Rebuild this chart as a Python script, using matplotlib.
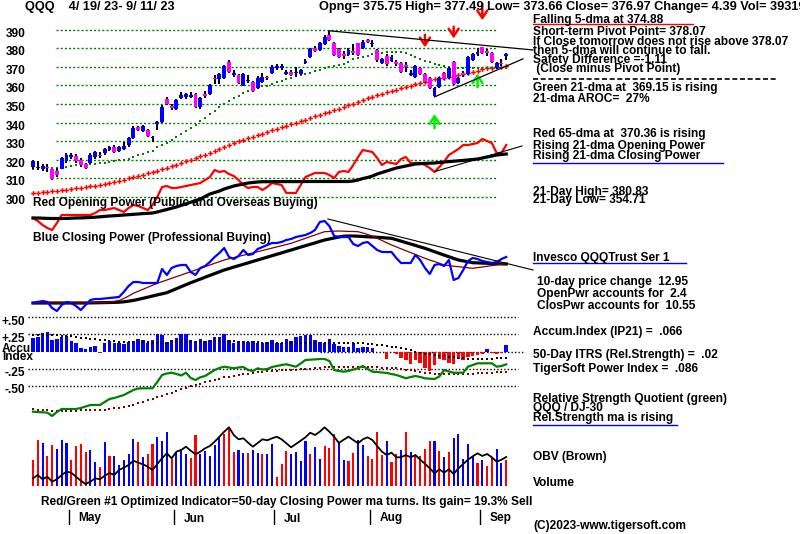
import matplotlib
matplotlib.use('Agg')
import matplotlib.pyplot as plt
from matplotlib.lines import Line2D
from matplotlib.transforms import ScaledTranslation
import numpy as np

W, H = 800, 534
plt.rcParams['font.family'] = ['Liberation Sans', 'DejaVu Sans']
FS = 8.6
FS_HEAD = 9.2

# ---------------- data ----------------
ticker = "QQQ"
date_range = "4/ 19/ 23- 9/ 11/ 23"
price_levels = [390, 380, 370, 360, 350, 340, 330, 320, 310, 300]
months = ["May", "Jun", "Jul", "Aug", "Sep"]
month_start_idx = [8, 30, 51, 71, 94]

opens = [315.9, 315.4, 315.3, 316.3, 314.8, 313.8, 315.2, 319.5, 321.6, 322.2,
         319.9, 317.7, 318.0, 321.3, 322.4, 323.6, 325.4, 327.0, 324.9, 325.9,
         327.7, 331.7, 337.7, 335.6, 336.1, 331.5, 339.2, 340.4, 352.9, 348.8,
         347.4, 353.3, 353.6, 353.8, 355.2, 348.4, 354.9, 355.2, 364.2, 363.3,
         363.8, 372.7, 365.8, 365.6, 360.2, 362.1, 361.7, 358.8, 361.7, 364.2,
         366.8, 369.2, 369.4, 366.1, 367.2, 366.5, 366.1, 372.2, 375.4, 379.9,
         379.0, 382.1, 387.2, 382.6, 379.4, 376.3, 376.3, 378.1, 382.6, 379.9,
         384.4, 382.0, 379.0, 371.9, 376.0, 373.3, 372.7, 372.2, 370.4, 365.8,
         364.7, 369.5, 366.1, 363.8, 354.3, 359.3, 366.5, 364.2, 372.7, 361.2,
         366.3, 366.1, 373.6, 376.7, 380.4, 377.8, 377.2, 369.2, 371.8, 375.75]
closes = [319.1, 316.2, 316.9, 315.4, 309.5, 311.7, 320.9, 322.7, 321.9, 319.1,
          317.0, 315.6, 322.7, 324.0, 321.8, 325.8, 326.6, 324.3, 327.0, 327.3,
          331.7, 337.3, 336.1, 337.9, 332.9, 332.0, 340.0, 348.4, 349.9, 347.7,
          352.0, 355.0, 355.2, 354.6, 348.4, 353.4, 354.3, 360.2, 363.3, 366.1,
          370.4, 367.4, 366.7, 361.5, 366.1, 362.6, 357.0, 364.2, 364.7, 363.8,
          370.0, 370.6, 370.4, 367.2, 365.6, 367.0, 368.3, 373.1, 379.4, 378.6,
          382.6, 386.0, 384.5, 376.3, 375.4, 375.8, 379.0, 377.6, 376.3, 383.5,
          383.5, 383.0, 373.6, 374.0, 371.3, 375.4, 371.5, 367.4, 369.8, 366.3,
          370.4, 366.0, 362.0, 358.5, 358.5, 363.8, 363.5, 369.5, 360.8, 363.8,
          365.8, 375.4, 376.7, 378.1, 377.2, 377.3, 372.7, 371.9, 371.3, 376.97]
highs = [319.8, 319.5, 317.8, 317.9, 315.2, 315.5, 321.3, 323.5, 323.6, 323.0,
         320.8, 318.5, 323.5, 324.8, 324.0, 326.5, 327.5, 327.8, 327.6, 329.5,
         332.3, 338.0, 338.3, 338.6, 336.6, 333.0, 340.8, 349.4, 353.6, 350.0,
         352.6, 356.2, 355.8, 356.3, 355.8, 353.8, 357.0, 360.8, 365.5, 366.6,
         371.0, 373.6, 368.4, 366.0, 366.6, 365.7, 362.2, 364.8, 366.5, 364.8,
         370.7, 371.5, 371.7, 368.5, 368.0, 369.8, 369.0, 374.0, 380.0, 381.3,
         383.4, 386.8, 389.3, 383.2, 380.0, 378.6, 380.2, 382.0, 383.0, 384.2,
         385.0, 384.2, 379.6, 374.7, 376.6, 376.2, 373.4, 372.8, 372.5, 368.3,
         371.0, 370.1, 366.8, 364.4, 359.2, 364.5, 367.2, 370.1, 373.3, 364.5,
         367.5, 376.0, 377.4, 380.0, 380.8, 379.6, 377.8, 372.5, 374.0, 377.49]
lows = [315.0, 314.3, 313.8, 313.5, 309.0, 310.5, 314.8, 318.5, 320.3, 318.3,
        316.2, 314.8, 317.5, 320.5, 320.8, 322.8, 324.5, 323.6, 324.2, 325.4,
        327.0, 331.0, 335.4, 335.0, 332.1, 329.8, 336.0, 340.0, 349.2, 346.5,
        346.8, 352.8, 352.8, 353.0, 347.8, 347.5, 353.3, 354.6, 360.8, 360.7,
        363.2, 366.6, 364.5, 360.9, 359.6, 361.5, 356.4, 358.2, 361.0, 363.0,
        366.2, 368.5, 368.4, 365.5, 364.8, 364.5, 365.5, 371.5, 374.8, 377.8,
        378.4, 381.5, 384.0, 375.7, 374.5, 374.4, 375.6, 376.5, 375.7, 379.3,
        382.5, 380.8, 372.8, 371.2, 370.6, 372.6, 370.4, 366.6, 367.0, 364.8,
        364.1, 365.3, 361.3, 357.9, 353.7, 358.7, 362.8, 363.5, 360.2, 360.5,
        364.6, 365.5, 373.0, 376.0, 376.6, 376.0, 372.0, 368.6, 370.4, 373.66]

ma21 = [315.2, 315.3, 315.3, 315.4, 315.4, 315.5, 315.6, 316.3, 316.8, 317.1,
        317.3, 317.5, 317.6, 317.7, 318.0, 318.4, 318.8, 319.3, 319.7, 320.0,
        320.4, 321.3, 322.3, 323.1, 324.0, 324.9, 326.6, 327.8, 329.0, 330.5,
        332.0, 333.8, 335.6, 337.0, 338.8, 340.9, 342.7, 344.5, 346.3, 348.1,
        349.9, 351.7, 353.1, 354.5, 355.8, 357.0, 358.1, 359.2, 359.5, 359.7,
        360.6, 361.7, 362.5, 363.3, 364.2, 365.0, 365.6, 366.0, 366.8, 367.7,
        368.3, 369.2, 369.7, 370.4, 371.0, 371.3, 372.4, 374.0, 374.5, 375.4,
        376.0, 376.7, 377.3, 377.6, 377.9, 378.0, 378.0, 377.8, 377.2, 376.2,
        375.2, 374.3, 373.3, 372.4, 371.5, 370.8, 370.2, 369.8, 369.4, 369.2,
        369.1, 369.1, 369.1, 369.1, 369.1, 369.1, 369.1, 369.1, 369.1, 369.15]
ma65 = [302.2, 302.4, 302.7, 302.9, 303.2, 303.4, 303.7, 304.0, 304.3, 304.7,
        305.0, 305.4, 305.7, 306.1, 306.5, 307.0, 307.6, 308.2, 308.8, 309.4,
        310.0, 310.7, 311.3, 312.0, 312.7, 313.4, 314.1, 314.8, 315.5, 316.4,
        317.3, 318.2, 319.1, 320.0, 320.9, 321.8, 322.8, 323.8, 324.9, 325.9,
        326.9, 328.0, 329.0, 329.9, 330.7, 331.6, 332.4, 333.3, 334.1, 335.0,
        335.8, 336.7, 337.5, 338.3, 339.2, 340.0, 340.8, 341.6, 342.4, 343.3,
        344.1, 344.9, 345.7, 346.5, 347.4, 348.3, 349.2, 350.1, 351.1, 352.0,
        353.0, 353.8, 354.6, 355.4, 356.2, 357.0, 357.7, 358.5, 359.2, 359.9,
        360.6, 361.3, 362.0, 362.7, 363.3, 363.8, 364.2, 364.6, 365.0, 365.5,
        366.0, 366.6, 367.3, 367.9, 368.6, 369.2, 369.5, 369.8, 370.1, 370.36]

open_power = [17, 14, 10, 7, 5, 12, 20, 20, 20, 20, 20, 20, 20, 22, 25, 25, 26, 27, 25, 23,
              27, 30, 29, 27, 25, 30, 38, 48, 49, 47, 47, 48, 49, 50, 51, 52, 55, 58, 65, 63,
              64, 61, 59, 55, 50, 47, 48, 48, 45, 48, 52, 51, 50, 42, 42, 42, 50, 58, 60, 62,
              62, 62, 60, 57, 63, 64, 63, 70, 78, 85, 84, 83, 77, 70, 73, 72, 71, 76, 78, 72,
              72, 72, 70, 67, 63, 68, 73, 80, 83, 86, 90, 90, 91, 92, 96, 94, 92, 82, 82, 90]
open_power_ma = [17, 17, 16.8, 16.6, 16.5, 16.5, 16.5, 16.6, 16.8, 17, 17.1, 17.3, 17.5, 17.8,
                 18.2, 18.6, 19, 19.3, 19.6, 20, 20.3, 20.7, 21, 21.4, 21.7, 22, 23, 24.3, 25.5,
                 26.8, 28, 29.6, 31.2, 32.8, 34.4, 36, 38.5, 41, 42.5, 44, 46, 47.5, 49, 50, 51,
                 52, 52.5, 53, 53.3, 53.3, 53.3, 53.4, 53.4, 53.4, 53.4, 53.4, 53.4, 53.5, 53.5,
                 53.5, 53.5, 53.5, 53.5, 53.5, 53.5, 53.5, 53.5, 54, 55, 56.5, 57.5, 59, 61, 62.5,
                 64, 65.5, 67, 68, 69, 70, 71, 71.3, 71.6, 71.8, 72, 72.5, 73, 73.4, 73.8, 74.2,
                 74.6, 75, 75.5, 76, 77, 78, 79, 80, 80.5, 81]
close_power = [7, 8, 9, 8, 2, -1, 5, 8, 7, 4, 0, 5, 10, 11, 11, 11.5, 12, 12.5, 13, 18,
               24, 28, 28, 27, 27, 27, 27, 41, 35, 42, 44, 45, 45, 38, 35, 42, 44, 48, 53, 57,
               62, 53, 51, 54, 60, 55, 56, 61, 63, 65, 67, 67, 68, 70, 71, 73, 74, 75, 77, 80,
               88, 89, 84, 74, 73, 73, 73, 66, 64, 67, 68, 64, 60, 58, 58, 58, 52, 47, 47, 47,
               55, 50, 42, 36, 45, 46, 44, 50, 30, 32, 40, 49, 52, 51, 49, 48, 47, 48, 51, 53]
close_power_ma = [7, 7, 7, 7, 7, 7, 7, 7, 7, 7, 7, 7, 7.1, 7.2, 7.3, 7.4, 7.5, 7.6, 7.8, 8.2,
                  8.8, 9.6, 10.6, 11.7, 12.8, 14, 15.1, 16.2, 17.3, 19.3, 21.3, 23.3, 25.3, 27.3,
                  29.1, 30.9, 32.8, 34.6, 36.4, 38.2, 40, 41.4, 42.9, 44.3, 45.7, 47.1, 48.6, 50,
                  51.4, 52.9, 54.3, 55.7, 57.1, 58.6, 60, 61.4, 62.9, 64.3, 65.7, 67.1, 68.6, 70,
                  71, 72, 73, 73.8, 74, 74, 73.8, 73.5, 73.2, 73, 72.7, 72.4, 72, 71.7, 70.3, 68.9,
                  67.4, 66, 64.6, 63.1, 61.7, 60, 58.3, 56.6, 54.9, 53.3, 51.6, 50, 49.1, 48.2,
                  47.3, 47.1, 46.9, 46.7, 46.5, 46.3, 46.1, 46]
close_power_ma_short = [7, 7, 7, 7, 7, 7, 7, 7, 7, 7, 7, 7, 7.2, 7.4, 7.6, 7.8, 8, 8.5, 9.5, 11.5,
                        14, 16.7, 18.7, 20.7, 22.7, 24.7, 26.7, 28.4, 30, 31.7, 33.4, 35, 36.7,
                        38.3, 40, 41.7, 43.3, 45, 46.7, 48.3, 50, 51.2, 52.4, 53.6, 54.8, 55.9,
                        57.1, 58.3, 59.5, 60.7, 61.9, 63.1, 64.3, 65.5, 66.7, 68.4, 70, 71.7, 73.4,
                        75, 76.7, 78.3, 78.6, 78.8, 79, 78.8, 78.6, 78.5, 78.3, 77, 75.5, 74, 71.7,
                        69.5, 67.2, 65, 63.1, 61.2, 59.3, 57.4, 55.5, 53.6, 51.7, 50, 48.4, 46.7,
                        45, 44.4, 43.8, 43.3, 42.8, 42.2, 41.7, 42.4, 43, 43.7, 44.4, 45, 45.8, 46.7]

accum_index = [0.19, 0.215, 0.265, 0.283, 0.167, 0.177, 0.215, 0.225, 0.157, 0.119,
               0.046, 0.032, 0.07, 0.08, -0.02, 0.119, 0.15, 0.13, 0.13, 0.11,
               0.14, 0.157, 0.177, 0.167, 0.119, 0.167, 0.255, 0.235, 0.14, 0.167,
               0.19, 0.254, 0.254, 0.167, 0.157, 0.18, 0.157, 0.167, 0.206, 0.206,
               0.254, 0.167, 0.13, 0.157, 0.15, 0.136, 0.157, 0.119, 0.13, 0.14,
               0.167, 0.13, 0.13, 0.177, 0.157, 0.206, 0.225, 0.24, 0.24, 0.167,
               0.143, 0.13, 0.177, 0.11, 0.08, 0.06, 0.07, 0.119, 0.046, 0.06,
               0.06, 0.046, -0.01, -0.01, -0.11, -0.01, -0.04, -0.1, -0.13, -0.18,
               -0.12, -0.17, -0.24, -0.28, -0.19, -0.11, -0.13, -0.16, -0.18, -0.11,
               -0.12, -0.08, -0.06, -0.05, -0.03, 0.03, -0.02, -0.03, -0.02, 0.09]
accum_ma = [0.24, 0.24, 0.24, 0.24, 0.235, 0.235, 0.23, 0.23, 0.22, 0.206,
            0.2, 0.19, 0.18, 0.175, 0.17, 0.16, 0.15, 0.15, 0.145, 0.14,
            0.14, 0.14, 0.135, 0.135, 0.135, 0.13, 0.13, 0.13, 0.13, 0.135,
            0.135, 0.14, 0.14, 0.14, 0.14, 0.14, 0.145, 0.145, 0.15, 0.15,
            0.15, 0.15, 0.15, 0.145, 0.14, 0.14, 0.135, 0.135, 0.13, 0.13,
            0.13, 0.13, 0.13, 0.13, 0.13, 0.13, 0.13, 0.13, 0.13, 0.13,
            0.13, 0.13, 0.13, 0.13, 0.13, 0.13, 0.13, 0.125, 0.12, 0.12,
            0.115, 0.11, 0.1, 0.09, 0.08, 0.07, 0.06, 0.045, 0.03, 0.015,
            0.0, -0.015, -0.03, -0.04, -0.05, -0.06, -0.07, -0.075, -0.085, -0.09,
            -0.1, -0.105, -0.11, -0.11, -0.11, -0.11, -0.105, -0.1, -0.1, -0.1]
rel_strength = [8.3, 8, 7.7, 7.3, 4, 8, 11, 11, 11, 11, 12, 13.5, 15, 15, 15, 18, 21, 22, 23.5, 25,
                27.5, 30, 31.5, 31.7, 31.7, 31.7, 38, 45, 46.5, 47.3, 46, 44.5, 47.3, 42, 40, 42.7,
                44, 47, 50, 52, 53.3, 52.5, 51.7, 52.5, 53, 50, 49, 51.7, 50.5, 51, 53, 54, 55,
                55.7, 54.5, 53.3, 56.5, 60, 60.3, 60.6, 61, 61, 59, 50, 49, 48.3, 49, 50.5, 51.7,
                54, 51, 48.3, 48, 47.5, 47, 46, 45, 43.5, 41.7, 43, 44, 43, 41.7, 41.3, 41, 43.5,
                50, 48.5, 47.3, 47.3, 47.3, 53.3, 55, 56.7, 56.7, 56.7, 56.7, 53.3, 54, 55.7]
rel_strength_ma = [10.7, 10.4, 10.1, 9.8, 9.5, 9.3, 9.3, 9.3, 9.4, 9.5, 9.6, 9.7, 9.8, 9.9, 10,
                   10.5, 11, 11.6, 12.2, 12.7, 14, 15.5, 17, 18.5, 20, 21.4, 22.7, 24.3, 25.9,
                   27.5, 29.2, 30.8, 32.4, 34, 35.2, 36.5, 37.7, 39, 40.2, 41.5, 42.7, 43.5, 44.3,
                   45, 45.8, 46.5, 47.2, 47.8, 48.4, 49, 49.3, 49.5, 49.8, 50, 50.3, 50.5, 50.7,
                   51.1, 51.5, 51.8, 52.2, 52.6, 53, 53.3, 53.3, 53.3, 53.3, 53.3, 53.3, 53.3,
                   53.3, 53.1, 52.8, 52.5, 52.2, 52, 51.7, 51, 50.3, 49.6, 48.9, 48.1, 47.4, 46.7,
                   46.5, 46.3, 46.1, 46, 46, 46, 46, 46.2, 46.5, 46.7, 47, 47.2, 47.5, 47.7, 48, 48.3]
volume = [25.7, 45.7, 43, 29.7, 40.7, 37.3, 45.7, 43, 26.3, 39.7, 41.7, 33.7, 35.7, 23.7, 19,
          43.7, 29.7, 29.7, 20.7, 25.7, 32.3, 47, 43.7, 29, 32.3, 41.7, 49, 45, 53.7, 27.3,
          34, 37.3, 32.3, 28.3, 50.7, 32.3, 34.7, 29.7, 40.7, 49, 51.7, 59, 33.7, 35.7, 33,
          33, 36.3, 33, 31.7, 31.7, 41.7, 9, 21.7, 34.7, 32.3, 33.7, 24.7, 44.7, 32.3, 38.7,
          26.7, 39.7, 38, 52.3, 42.7, 25.7, 24.7, 32.7, 46.3, 40.7, 29.7, 27, 53.7, 30.7, 44.7,
          23.7, 31.7, 35.7, 53.7, 33.7, 29.7, 29.7, 36.7, 44.7, 44.7, 34.7, 28.7, 33.7, 47.7,
          51.7, 26.7, 41.7, 28.7, 22.7, 25.7, 19.7, 28.7, 36.7, 22.7, 25.7]
volume_color = ("rrbrrbbbrrrrbbrbrbbbbbrbrrbbbrbbbrrbbbbbrrrbbrbbrb"
                "brrrbbbbrbbrrrbbrrbbrrrrbrrbrbrrrrbrbrbbbbbrbrrbb")
obv = [7.7, 11, 6.7, 9.3, 4.3, 6.7, 11, 14.3, 13.3, 9.3, 5.3, 2, 4.3, 7.7, 6.7, 10.3, 13, 11,
       16, 18.3, 21, 25.3, 23.3, 21.7, 19.3, 16, 22, 27.7, 32.7, 27.7, 34.3, 36, 39.3, 35.3,
       31.7, 34.3, 37.7, 40, 44.3, 49.3, 54.3, 58.7, 51, 46.7, 47.7, 43.3, 39.3, 43, 46.7, 45.7,
       47.7, 49.3, 46.7, 42.7, 38.7, 42, 45.3, 48.7, 53.3, 51, 54.3, 58.7, 54.3, 49.3, 43, 46.3,
       49.3, 46, 42.7, 46.7, 48.7, 46, 40, 34.3, 31, 33.3, 28.7, 28.7, 31, 28.7, 31, 26.3, 22.3,
       17.7, 12.7, 16.7, 13.3, 16.7, 12, 17.7, 22, 26.3, 29.7, 32.7, 30, 32, 28.7, 24.3, 26.3, 29]

# trendlines (day index, value)
price_resist = ([62, 104.6], [389.3, 379.0])
price_support = ([84, 102.5], [353.8, 374.2])
op_trend = ([84.1, 102.3], [63.5, 89.0])
cp_trend = ([61.7, 104.6], [91.0, 40.0])
sell_days = [82, 88, 94]
sell_tail = [387.2, 391.5, 404.0]
sell_tip = [380.4, 385.2, 395.0]
buy_days = [84, 93]
buy_tail = [337.0, 359.0]
buy_tip = [344.5, 366.4]

header_left = "QQQ    4/ 19/ 23- 9/ 11/ 23"
header_right = ("Opng= 375.75 High= 377.49 Low= 373.66 Close= 376.97 "
                "Change= 4.39 Vol= 39319500")

# ---------------- layout ----------------
fig = plt.figure(figsize=(W / 100, H / 100), dpi=100)
fig.patch.set_facecolor('white')
X0, DX = 33.0, 4.78
XMIN, XMAX = -1.0, 104.2
LPX, RPX = X0 + XMIN * DX, X0 + XMAX * DX
days = np.arange(len(closes))
BLUE, MAG, RED, GRN, LIME, BRN = '#0000ff', '#ff00ff', '#ff0000', '#008000', '#00ee00', '#800000'


def make_ax(top, bottom, ylim):
    ax = fig.add_axes([LPX / W, 1 - bottom / H, (RPX - LPX) / W, (bottom - top) / H])
    ax.set_xlim(XMIN, XMAX)
    ax.set_ylim(*ylim)
    ax.patch.set_visible(False)
    for s in ax.spines.values():
        s.set_visible(False)
    ax.set_xticks([])
    ax.set_yticks([])
    return ax


def ftext(x, y, s, **kw):
    d = dict(fontsize=FS, fontweight='bold', va='center', ha='left')
    d.update(kw)
    fig.text(x / W, 1 - y / H, s, **d)


def fline(x0, x1, y, color, **kw):
    fig.add_artist(Line2D([x0 / W, x1 / W], [1 - y / H, 1 - y / H],
                          transform=fig.transFigure, color=color, **kw))


# price panel
ax = make_ax(10, 215, (300 - 18 / 1.8611, 390 + 19.5 / 1.8611))
ax.hlines(price_levels, 4.8, 97, colors=GRN, linestyles=(0, (1.5, 1.5)), lw=1.0, zorder=1)
ax.set_yticks(price_levels, [str(v) for v in price_levels])
ax.tick_params(axis='y', length=0, pad=2, labelsize=FS)
off = ScaledTranslation(0, -2.5 / 100, fig.dpi_scale_trans)
for lb in ax.get_yticklabels():
    lb.set_fontweight('bold')
    lb.set_transform(lb.get_transform() + off)
ax.plot(days, ma65, ls='none', marker='P', ms=3.4, color=RED, mew=0, zorder=2)
ax.plot(days, ma21, ls='none', marker='s', ms=1.9, color=GRN, mew=0, zorder=2)
ax.vlines(days, lows, highs, colors='black', lw=1.5, zorder=3)
o = np.array(opens); c = np.array(closes)
bot = np.minimum(o, c)
hgt = np.maximum(np.abs(c - o), 0.9)
ax.bar(days, hgt, bottom=bot, width=0.82, color=[BLUE if cc >= oo else MAG for oo, cc in zip(o, c)],
       zorder=4, linewidth=0)
ax.plot(*price_resist, color='black', lw=0.9, zorder=5, clip_on=False)
ax.plot(*price_support, color='black', lw=0.9, zorder=5, clip_on=False)
arrow_kw = dict(arrowstyle='->,head_length=0.45,head_width=0.3', lw=1.8,
                mutation_scale=12, shrinkA=0, shrinkB=0)
for d_, t0, t1 in zip(sell_days, sell_tail, sell_tip):
    ax.annotate('', xy=(d_, t1), xytext=(d_, t0), annotation_clip=False,
                arrowprops=dict(color=RED, **arrow_kw))
for d_, t0, t1 in zip(buy_days, buy_tail, buy_tip):
    ax.annotate('', xy=(d_, t1), xytext=(d_, t0), annotation_clip=False,
                arrowprops=dict(color=LIME, **arrow_kw))

# opening power (overlay)
axo = make_ax(135, 235, (0, 100))
axo.plot(days, open_power, color=RED, lw=1.6, clip_on=False)
axo.plot(days, open_power_ma, color='black', lw=2.3, clip_on=False)
axo.plot(*op_trend, color='black', lw=0.8, clip_on=False)

# closing power
axc = make_ax(200, 310, (0, 110))
axc.plot(days, close_power_ma, color='black', lw=2.3, clip_on=False)
axc.plot(days, close_power_ma_short, color=BRN, lw=0.9, clip_on=False)
axc.plot(days, close_power, color=BLUE, lw=1.6, clip_on=False)
axc.plot(*cp_trend, color='black', lw=0.8, clip_on=False)

# accumulation index
axa = make_ax(310, 395, ((351.5 - 395) / 68.8, (351.5 - 310) / 68.8))
for lvl in [0.5, 0.25, -0.25, -0.5]:
    axa.plot([XMIN, 101.5], [lvl, lvl], color='black', lw=1.0, ls=(0, (1, 1.5)))
axa.plot([60, 103], [0, 0], color='black', lw=1.0, ls=(0, (1, 1.5)))
ai = np.array(accum_index)
axa.bar(days, ai, width=0.72, color=[BLUE if v > 0 else RED for v in ai], linewidth=0, zorder=2)
axa.plot(days, accum_ma, ls='none', marker='s', ms=1.6, color='black', mew=0, zorder=3)
axa.set_yticks([0.5, 0.25, -0.25, -0.5], ['+.50', '+.25', '-.25', '-.50'])
axa.tick_params(axis='y', length=0, pad=2, labelsize=FS)
off2 = ScaledTranslation(0, -3 / 100, fig.dpi_scale_trans)
for lb in axa.get_yticklabels():
    lb.set_fontweight('bold')
    lb.set_transform(lb.get_transform() + off2)

# relative strength
axr = make_ax(350, 420, (0, 70))
axr.plot(days, rel_strength_ma, ls='none', marker='s', ms=1.7, color=BRN, mew=0, zorder=2)
axr.plot(days, rel_strength, color=GRN, lw=1.6, zorder=3)

# volume + OBV
axv = make_ax(420, 486, (0, 66))
axv.bar(days, volume, width=0.44, color=[RED if ch == 'r' else BLUE for ch in volume_color],
        linewidth=0)
axv.plot(days, obv, color='black', lw=1.3)

# months
axm = make_ax(505, 525, (0, 20))
for d_, name in zip(month_start_idx, months):
    axm.plot([d_ - 0.5, d_ - 0.5], [1, 15], color='black', lw=1.0)
    axm.text(d_ + 1.5, 6.5, name, fontsize=FS, fontweight='bold', va='center', ha='left')

# ---------------- texts ----------------
ftext(25, 7, header_left, fontsize=FS_HEAD)
ftext(319, 7, header_right, fontsize=FS_HEAD)
ftext(33, 203, "Red Opening Power (Public and Overseas Buying)")
ftext(33, 238, "Blue Closing Power (Professional Buying)")
ftext(2, 349, "Accu")
ftext(2, 357.5, "Index")
ftext(41, 502, "Red/Green #1 Optimized Indicator=50-day Closing Power ma turns. Its gain= 19.3% Sell")

right_texts = [
    ("Falling 5-dma at 374.88", 533, 20.5),
    ("Short-term Pivot Point= 378.07", 533, 32),
    ("If Close tomorrow does not rise above 378.07", 533, 42),
    ("then 5-dma will continue to fall.", 533, 51),
    ("Safety Difference =-1.11", 533, 60),
    (" (Close minus Pivot Point)", 533, 69),
    ("Green 21-dma at  369.15 is rising", 533, 88),
    ("21-dma AROC=  27%", 533, 98.5),
    ("Red 65-dma at  370.36 is rising", 533, 134),
    ("Rising 21-dma Opening Power", 533, 146),
    ("Rising 21-dma Closing Power", 533, 156.5),
    ("21-Day High= 380.83", 533, 192),
    ("21-Day Low= 354.71", 533, 200.5),
    ("Invesco QQQTrust Ser 1", 533, 258),
    ("10-day price change  12.95", 537, 282),
    ("OpenPwr accounts for  2.4", 537, 294),
    ("ClosPwr accounts for  10.55", 537, 306),
    ("Accum.Index (IP21) =  .066", 533, 332),
    ("50-Day ITRS (Rel.Strength) =  .02", 533, 355),
    ("TigerSoft Power Index =  .086", 533, 369),
    ("Relative Strength Quotient (green)", 533, 399),
    ("QQQ / DJ-30", 533, 408.5),
    ("Rel.Strength ma is rising", 533, 418),
    ("OBV (Brown)", 533, 457),
    ("Volume", 533, 483),
    ("(C)2023-www.tigersoft.com", 533, 526),
]
for s, x, y in right_texts:
    ftext(x, y, s)

fline(533, 693, 24.3, RED, lw=1.0)
fline(533, 777, 79, 'black', lw=1.2, ls=(0, (3, 1.6)))
fline(533, 723, 163.3, BLUE, lw=1.0)
fline(533, 686, 263.3, BLUE, lw=1.0)
fline(533, 677, 425.3, BLUE, lw=1.0)

fig.savefig('out.png', dpi=100, facecolor='white')
